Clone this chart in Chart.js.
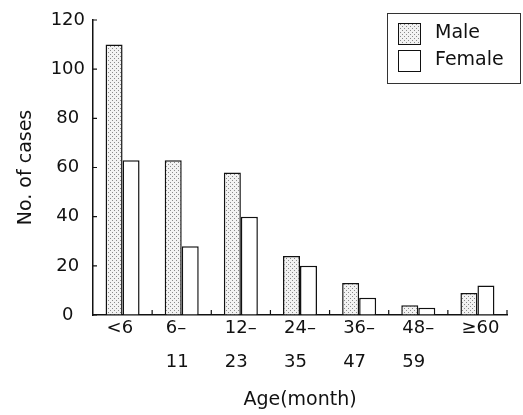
<!DOCTYPE html>
<html>
<head>
<meta charset="utf-8">
<title>Cases by age</title>
<script src="https://cdn.jsdelivr.net/npm/chart.js"></script>
<style>
    body { margin: 0; background: #fff; }
    #wrap { width: 523px; height: 415px; }
</style>
</head>
<body>
<div id="wrap"><canvas id="myChart" width="523" height="415"></canvas></div>
<script>
    // data
    var ageGroups = [['<6'], ['6\u2013', '11'], ['12\u2013', '23'], ['24\u2013', '35'], ['36\u2013', '47'], ['48\u2013', '59'], ['\u226560']];
    var maleCases = [110, 63, 58, 24, 13, 4, 9];
    var femaleCases = [63, 28, 40, 20, 7, 3, 12];
    var seriesNames = ['Male', 'Female'];
    var yTicks = [0, 20, 40, 60, 80, 100, 120];

    var ink = '#111';
    var fontFamily = '"DejaVu Sans", sans-serif';

    // dotted fill for the male bars
    function dots() {
        var c = document.createElement('canvas');
        c.width = 4; c.height = 4;
        var g = c.getContext('2d');
        g.fillStyle = '#f2f2f2';
        g.fillRect(0, 0, 4, 4);
        g.fillStyle = '#8a8a8a';
        g.fillRect(0, 0, 1, 1);
        g.fillRect(2, 2, 1, 1);
        return g.createPattern(c, 'repeat');
    }

    // inward tick marks + boxed legend
    var extras = {
        id: 'extras',
        afterDraw: function (chart) {
            var ctx = chart.ctx, xs = chart.scales.x, ys = chart.scales.y, area = chart.chartArea;
            ctx.save();
            ctx.strokeStyle = ink;
            ctx.lineWidth = 1.2;
            ctx.beginPath();
            ys.ticks.forEach(function (t, i) {
                var py = ys.getPixelForTick(i);
                ctx.moveTo(area.left, py);
                ctx.lineTo(area.left + 4, py);
            });
            for (var i = 1; i <= ageGroups.length; i++) {
                var px = xs.getPixelForValue(i - 0.5);
                ctx.moveTo(px, area.bottom);
                ctx.lineTo(px, area.bottom - 5);
            }
            ctx.stroke();

            // legend
            ctx.lineWidth = 1;
            ctx.strokeStyle = '#333';
            ctx.strokeRect(387.5, 13.5, 133, 70);
            ctx.font = '19px ' + fontFamily;
            ctx.textBaseline = 'middle';
            ctx.fillStyle = ink;
            chart.data.datasets.forEach(function (ds, k) {
                var top = 23 + k * 27;
                ctx.fillStyle = ds.backgroundColor;
                ctx.fillRect(398.5, top + 0.5, 22, 21);
                ctx.strokeStyle = ink;
                ctx.strokeRect(398.5, top + 0.5, 22, 21);
                ctx.fillStyle = ink;
                ctx.fillText(ds.label, 435, top + 10);
            });
            ctx.restore();
        }
    };

    var ctx = document.getElementById('myChart').getContext('2d');
    var chart = new Chart(ctx, {
        type: 'bar',
        data: {
            labels: ageGroups,
            datasets: [
                { label: seriesNames[0], data: maleCases, backgroundColor: dots(), borderColor: ink, borderWidth: 1.5 },
                { label: seriesNames[1], data: femaleCases, backgroundColor: '#fff', borderColor: ink, borderWidth: 1.5 }
            ]
        },
        options: {
            responsive: false,
            animation: false,
            layout: { padding: { top: 20, right: 16, bottom: 0, left: 0 } },
            datasets: { bar: { barPercentage: 1, categoryPercentage: 0.575 } },
            plugins: { legend: { display: false }, tooltip: { enabled: false } },
            scales: {
                x: {
                    afterFit: function (s) { s.height = 100; },
                    grid: { display: true, drawOnChartArea: false, drawTicks: false },
                    border: { display: true, color: ink, width: 1.5 },
                    ticks: {
                        color: ink, align: 'start', labelOffset: -16, padding: -4, maxRotation: 0, autoSkip: false,
                        font: { family: fontFamily, size: 18, lineHeight: '34px' }
                    },
                    title: {
                        display: true, text: 'Age(month)', color: ink,
                        font: { family: fontFamily, size: 19 }, padding: { top: 0, bottom: 4 }
                    }
                },
                y: {
                    min: 0, max: 120,
                    afterFit: function (s) { s.width = 93; },
                    afterBuildTicks: function (s) { s.ticks = yTicks.map(function (v) { return { value: v }; }); },
                    grid: { display: true, drawOnChartArea: false, drawTicks: false },
                    border: { display: true, color: ink, width: 1.5 },
                    ticks: { color: ink, crossAlign: 'center', padding: 8, font: { family: fontFamily, size: 18 } },
                    title: {
                        display: true, text: 'No. of cases', color: ink,
                        font: { family: fontFamily, size: 19 }, padding: { top: 15, bottom: 0 }
                    }
                }
            }
        },
        plugins: [extras]
    });
</script>
</body>
</html>
